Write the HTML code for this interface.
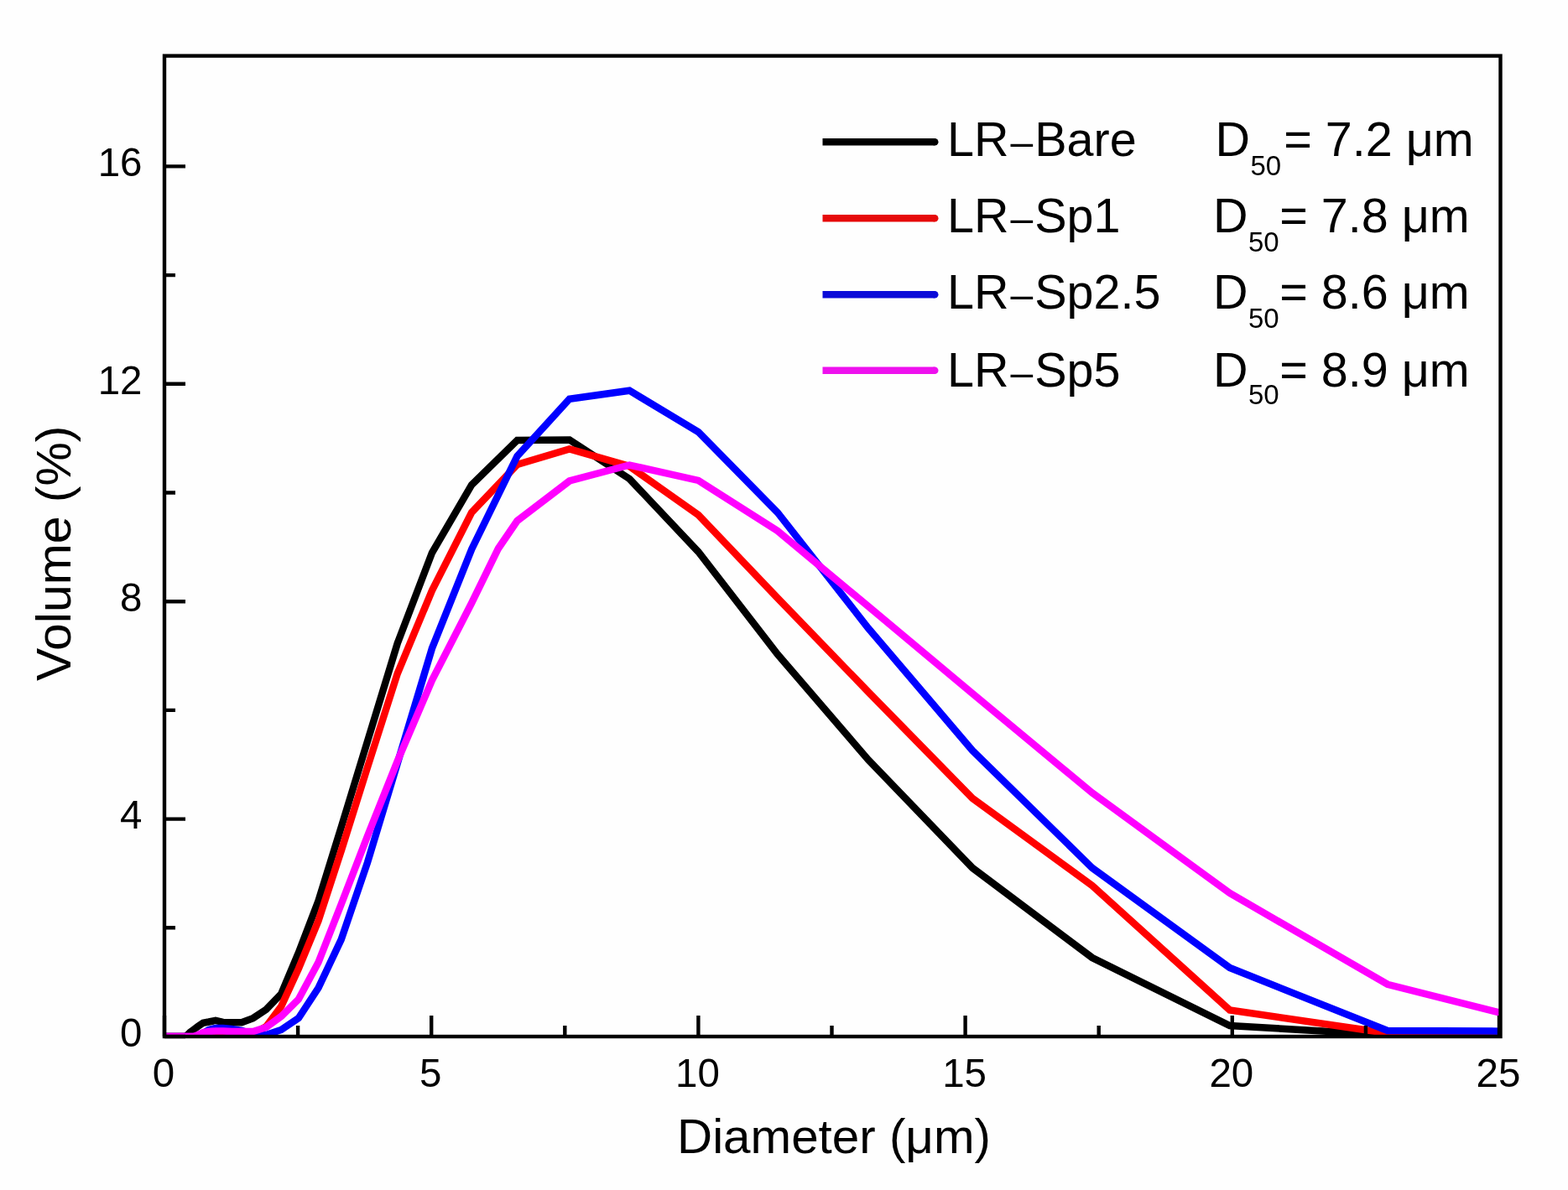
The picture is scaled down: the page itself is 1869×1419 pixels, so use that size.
<!DOCTYPE html>
<html><head><meta charset="utf-8"><title>Particle size distribution</title>
<style>html,body{margin:0;padding:0;background:#fefefe;}svg{display:block;}</style></head>
<body>
<svg width="1869" height="1419" viewBox="0 0 1869 1419">
<rect width="1869" height="1419" fill="#fefefe"/>
<defs><clipPath id="pc"><rect x="196" y="0" width="1592.5" height="1236"/></clipPath></defs>
<g clip-path="url(#pc)" fill="none" stroke-width="8.5" stroke-linejoin="miter" stroke-miterlimit="3">
<polyline stroke="#000" points="180,1236 216.1,1236.0 219.1,1236.0 222.5,1235.0 226.5,1230.9 231.0,1227.6 236.2,1223.8 242.1,1219.7 248.9,1218.5 256.8,1216.9 265.8,1218.9 276.1,1219.3 288.0,1219.3 301.6,1214.1 317.3,1203.7 335.2,1185.2 355.9,1135.9 379.5,1074.3 406.7,986.4 438.0,884.0 473.8,767.0 515.0,659.0 562.2,578.2 616.5,525.0 678.8,524.5 750.3,571.0 832.4,658.0 926.7,780.0 1034.9,906.0 1159.2,1035.0 1301.9,1142.0 1465.8,1223.0 1653.9,1234.0 1869.9,1236.0"/>
<polyline stroke="#ff0000" points="180,1236 216.1,1236.0 219.1,1236.0 222.5,1236.0 226.5,1236.0 231.0,1236.0 236.2,1236.0 242.1,1236.0 248.9,1236.0 256.8,1236.0 265.8,1236.0 276.1,1236.0 288.0,1236.0 301.6,1233.0 317.3,1224.0 335.2,1200.0 355.9,1155.0 379.5,1098.0 406.7,1014.6 438.0,915.0 473.8,803.0 515.0,704.0 562.2,611.0 616.5,554.0 678.8,535.5 750.3,556.0 832.4,614.0 926.7,713.0 1034.9,825.0 1159.2,952.0 1301.9,1056.0 1465.8,1204.4 1653.9,1232.0 1869.9,1236.0"/>
<polyline stroke="#0000ff" points="180,1236 216.1,1236.0 219.1,1236.0 222.5,1236.0 226.5,1236.0 231.0,1236.0 236.2,1236.0 242.1,1232.0 248.9,1228.0 256.8,1226.0 265.8,1226.0 276.1,1227.0 288.0,1229.0 301.6,1233.0 317.3,1234.0 335.2,1228.0 355.9,1214.0 379.5,1178.0 406.7,1120.4 438.0,1028.5 473.8,910.0 515.0,773.0 562.2,655.0 616.5,544.0 678.8,475.7 750.3,465.7 832.4,515.1 926.7,611.0 1034.9,749.0 1159.2,895.0 1301.9,1035.0 1465.8,1154.0 1653.9,1229.0 1869.9,1230.0"/>
<polyline stroke="#ff00ff" points="180,1236 216.1,1236.0 219.1,1236.0 222.5,1236.0 226.5,1236.0 231.0,1236.0 236.2,1234.0 242.1,1231.0 248.9,1230.0 256.8,1229.5 265.8,1229.5 276.1,1230.0 288.0,1230.0 301.6,1230.0 317.3,1225.0 335.2,1212.0 355.9,1191.5 379.5,1147.5 406.7,1078.2 438.0,997.0 473.8,907.4 515.0,811.1 562.2,719.0 594.0,654.0 616.5,621.0 678.8,573.5 750.3,554.5 832.4,572.9 926.7,633.0 1034.9,723.0 1159.2,827.0 1301.9,945.5 1465.8,1065.0 1653.9,1173.8 1869.9,1228.4"/>
</g>
<rect x="196" y="66.6" width="1592.5" height="1169.4" fill="none" stroke="#000" stroke-width="4.4"/>
<path d="M196.0,1236V1211 M355.1,1236V1223 M514.2,1236V1211 M673.3,1236V1223 M832.4,1236V1211 M991.5,1236V1223 M1150.6,1236V1211 M1309.7,1236V1223 M1468.8,1236V1211 M1627.9,1236V1223 M1787.0,1236V1211 M196,1236.0H221 M196,1106.3H209 M196,976.6H221 M196,846.9H209 M196,717.2H221 M196,587.5H209 M196,457.8H221 M196,328.1H209 M196,198.4H221" stroke="#000" stroke-width="4.4" fill="none"/>
<g font-family='"Liberation Sans", Arial, sans-serif' font-size="47.5" fill="#000">
<text x="195.0" y="1296" text-anchor="middle">0</text>
<text x="513.2" y="1296" text-anchor="middle">5</text>
<text x="831.4" y="1296" text-anchor="middle">10</text>
<text x="1149.6" y="1296" text-anchor="middle">15</text>
<text x="1467.8" y="1296" text-anchor="middle">20</text>
<text x="1786.0" y="1296" text-anchor="middle">25</text>
<text x="169.5" y="1247.7" text-anchor="end">0</text>
<text x="169.5" y="988.3" text-anchor="end">4</text>
<text x="169.5" y="728.9" text-anchor="end">8</text>
<text x="169.5" y="469.5" text-anchor="end">12</text>
<text x="169.5" y="210.1" text-anchor="end">16</text>
</g>
<text x="807" y="1374.7" textLength="374" lengthAdjust="spacingAndGlyphs" font-family='"Liberation Sans", Arial, sans-serif' font-size="57.5">Diameter (μm)</text>
<text transform="translate(83.5,812) rotate(-90)" textLength="304.5" lengthAdjust="spacingAndGlyphs" font-family='"Liberation Sans", Arial, sans-serif' font-size="58">Volume (%)</text>
<line x1="980.5" y1="169.2" x2="1114.2" y2="169.2" stroke="#000" stroke-width="8.6"/><circle cx="1114.2" cy="169.2" r="4.3" fill="#000"/>
<text x="1129" y="186.4" font-family='"Liberation Sans", Arial, sans-serif' font-size="57.5">LR<tspan font-size="48" dx="2">–</tspan><tspan dx="2">Bare</tspan></text>
<text x="1448.4" y="186.4" font-family='"Liberation Sans", Arial, sans-serif' font-size="57.5">D</text>
<text x="1490.4" y="209.4" font-family='"Liberation Sans", Arial, sans-serif' font-size="33">50</text>
<text x="1530.2" y="186.4" font-family='"Liberation Sans", Arial, sans-serif' font-size="57.5">= 7.2 μm</text>
<line x1="980.5" y1="260.3" x2="1114.2" y2="260.3" stroke="#e60a0a" stroke-width="8.6"/><circle cx="1114.2" cy="260.3" r="4.3" fill="#e60a0a"/>
<text x="1129" y="277.0" font-family='"Liberation Sans", Arial, sans-serif' font-size="57.5">LR<tspan font-size="48" dx="2">–</tspan><tspan dx="2">Sp1</tspan></text>
<text x="1445.9" y="277.0" font-family='"Liberation Sans", Arial, sans-serif' font-size="57.5">D</text>
<text x="1487.9" y="300.0" font-family='"Liberation Sans", Arial, sans-serif' font-size="33">50</text>
<text x="1525.2" y="277.0" font-family='"Liberation Sans", Arial, sans-serif' font-size="57.5">= 7.8 μm</text>
<line x1="980.5" y1="351.2" x2="1114.2" y2="351.2" stroke="#0a0ad8" stroke-width="8.6"/><circle cx="1114.2" cy="351.2" r="4.3" fill="#0a0ad8"/>
<text x="1129" y="367.8" font-family='"Liberation Sans", Arial, sans-serif' font-size="57.5">LR<tspan font-size="48" dx="2">–</tspan><tspan dx="2">Sp2.5</tspan></text>
<text x="1445.9" y="367.8" font-family='"Liberation Sans", Arial, sans-serif' font-size="57.5">D</text>
<text x="1487.9" y="390.8" font-family='"Liberation Sans", Arial, sans-serif' font-size="33">50</text>
<text x="1525.2" y="367.8" font-family='"Liberation Sans", Arial, sans-serif' font-size="57.5">= 8.6 μm</text>
<line x1="980.5" y1="441.8" x2="1114.2" y2="441.8" stroke="#ee11ee" stroke-width="8.6"/><circle cx="1114.2" cy="441.8" r="4.3" fill="#ee11ee"/>
<text x="1129" y="461.0" font-family='"Liberation Sans", Arial, sans-serif' font-size="57.5">LR<tspan font-size="48" dx="2">–</tspan><tspan dx="2">Sp5</tspan></text>
<text x="1445.9" y="461.0" font-family='"Liberation Sans", Arial, sans-serif' font-size="57.5">D</text>
<text x="1487.9" y="481.7" font-family='"Liberation Sans", Arial, sans-serif' font-size="33">50</text>
<text x="1525.2" y="461.0" font-family='"Liberation Sans", Arial, sans-serif' font-size="57.5">= 8.9 μm</text>
</svg>
</body></html>
